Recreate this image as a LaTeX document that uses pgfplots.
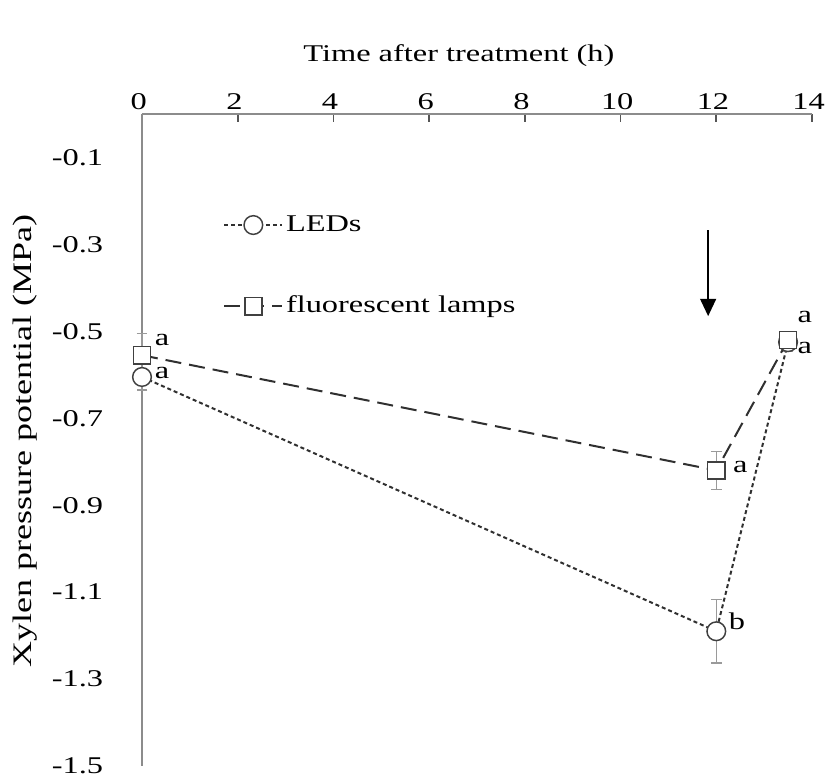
\documentclass[border=0pt]{standalone}
\usepackage{fontspec}
\setmainfont{Liberation Serif}[FakeStretch=1.35]
\usepackage{pgfplots}
\pgfplotsset{compat=1.18}
\usetikzlibrary{arrows.meta}
\definecolor{AxisGray}{HTML}{8C8C8C}
\definecolor{TickGray}{HTML}{555555}
\definecolor{LineGray}{HTML}{303030}
\definecolor{MarkGray}{HTML}{404040}
\definecolor{ErrGray}{HTML}{9A9A9A}

\begin{document}
\fontsize{18}{22}\selectfont
\begin{tikzpicture}
    \path[use as bounding box] (-106.5pt,-9.75pt) rectangle (513pt,574.5pt);
    \begin{axis}[
        at={(0,0)},
        anchor=south west,
        scale only axis,
        width=502.5pt,
        height=489pt,
        xmin=0, xmax=14,
        ymin=-1.5, ymax=0,
        axis x line*=top,
        axis y line*=left,
        axis line style={AxisGray, line width=2pt, -},
        xtick={0,2,4,6,8,10,12,14},
        ytick={-1.5,-1.3,-1.1,-0.9,-0.7,-0.5,-0.3,-0.1},
        yticklabels={-1.5,-1.3,-1.1,-0.9,-0.7,-0.5,-0.3,-0.1},
        tick align=inside,
        major tick length=6pt,
        x tick style={TickGray, line width=1.2pt},
        y tick style={draw=none},
        /pgf/number format/assume math mode=true,
        xticklabel style={yshift=-3pt, xshift=-2.5pt},
        yticklabel style={xshift=-23pt},
        clip=false,
        legend style={
            draw=none,
            fill=none,
            at={(0.121,0.849)},
            anchor=north west,
            row sep=42pt,
            inner sep=0pt
        },
        legend cell align=left,
        legend image code/.code={
            \draw[mark repeat=2, mark phase=2]
            plot coordinates {(0pt,0pt) (21.75pt,0pt) (43.5pt,0pt)};
        }
    ]

    % LEDs
    \addplot[
        LineGray,
        line width=1.5pt,
        dash pattern=on 3pt off 2.2pt,
        mark=*,
        mark size=7pt,
        mark options={solid, draw=MarkGray, fill=white, line width=1.1pt},
        error bars/.cd,
        y dir=both,
        y explicit,
        error bar style={solid, ErrGray, line width=1.1pt},
        error mark options={solid, ErrGray, rotate=90, line width=1.1pt, mark size=4pt}
    ]
    table[x=t, y=psi, y error=err] {
        t     psi     err
        0     -0.605  0.03
        12    -1.19   0.073
        13.5  -0.525  0.02
    };
    \addlegendentry{LEDs}

    % fluorescent lamps
    \addplot[
        LineGray,
        line width=1.5pt,
        dash pattern=on 12pt off 6pt,
        mark=square*,
        mark size=6.4pt,
        mark options={solid, draw=MarkGray, fill=white, line width=1.1pt},
        error bars/.cd,
        y dir=both,
        y explicit,
        error bar style={solid, ErrGray, line width=1.1pt},
        error mark options={solid, ErrGray, rotate=90, line width=1.1pt, mark size=4pt}
    ]
    table[x=t, y=psi, y error=err] {
        t     psi     err
        0     -0.555  0.05
        12    -0.82   0.044
        13.5  -0.52   0.02
    };
    \addlegendentry{fluorescent lamps}

    % significance letters
    \node at (axis cs:0.42,-0.519) {a};
    \node at (axis cs:0.42,-0.595) {a};
    \node at (axis cs:12.43,-1.168) {b};
    \node at (axis cs:12.5,-0.811) {a};
    \node at (axis cs:13.85,-0.467) {a};
    \node at (axis cs:13.85,-0.539) {a};

    % arrow
    \draw[black, line width=1.1pt, -{Triangle[width=12pt,length=13pt]}]
        (axis cs:11.83,-0.268) -- (axis cs:11.83,-0.465);

    % axis titles
    \node at (rel axis cs:0.473,1) [yshift=44pt] {Time after treatment (h)};
    \node[xshift=-87.75pt, rotate=90, font=\fontsize{20}{24}\selectfont]
        at (rel axis cs:0,0.498) {Xylen pressure potential (MPa)};

    \end{axis}
\end{tikzpicture}
\end{document}
